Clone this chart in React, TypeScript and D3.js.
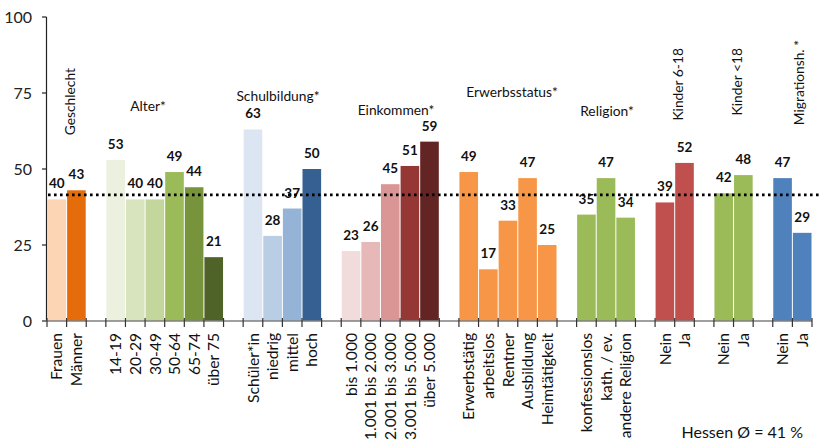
import React from "react";
import * as d3 from "d3";

// ---- data ----
const groups = ["Geschlecht", "Alter*", "Schulbildung*", "Einkommen*", "Erwerbsstatus*", "Religion*", "Kinder 6-18", "Kinder <18", "Migrationsh. *"];
const categories: string[][] = [
  ["Frauen", "Männer"],
  ["14-19", "20-29", "30-49", "50-64", "65-74", "über 75"],
  ["Schüler*in", "niedrig", "mittel", "hoch"],
  ["bis 1.000", "1.001 bis 2.000", "2.001 bis 3.000", "3.001 bis 5.000", "über 5.000"],
  ["Erwerbstätig", "arbeitslos", "Rentner", "Ausbildung", "Heimtätigkeit"],
  ["konfessionslos", "kath. / ev.", "andere Religion"],
  ["Nein", "Ja"],
  ["Nein", "Ja"],
  ["Nein", "Ja"],
];
const values: number[][] = [
  [40, 43],
  [53, 40, 40, 49, 44, 21],
  [63, 28, 37, 50],
  [23, 26, 45, 51, 59],
  [49, 17, 33, 47, 25],
  [35, 47, 34],
  [39, 52],
  [42, 48],
  [47, 29],
];
const colors: string[][] = [
  ["#FCD5B5", "#E46C0A"],
  ["#EBF1DE", "#D7E4BD", "#C3D69B", "#9BBB59", "#77933C", "#4F6228"],
  ["#DCE6F2", "#B9CDE5", "#95B3D7", "#376092"],
  ["#F2DCDB", "#E6B9B8", "#D99694", "#953735", "#632523"],
  ["#F79646", "#F79646", "#F79646", "#F79646", "#F79646"],
  ["#9BBB59", "#9BBB59", "#9BBB59"],
  ["#C0504D", "#C0504D"],
  ["#9BBB59", "#9BBB59"],
  ["#4F81BD", "#4F81BD"],
];
const yTicks = [0, 25, 50, 75, 100];
const average = 41.5;
const averageLabel = "Hessen Ø = 41 %";

// group title layout: [centerX, y, rotated]
const titleLayout: [number, number, boolean][] = [
  [70, 68, true],
  [148, 111, false],
  [278, 101, false],
  [396, 115, false],
  [512, 97, false],
  [607, 116, false],
  [678, 48, true],
  [737, 48, true],
  [799, 40, true],
];

const W = 821, H = 447;
const FONT = "Lato, 'Open Sans', sans-serif";

type Slot = { id: string; label: string; value: number | null; color: string };

export default function App() {
  const slots: Slot[] = [];
  groups.forEach((g, gi) => {
    if (gi > 0) slots.push({ id: `gap${gi}`, label: "", value: null, color: "none" });
    categories[gi].forEach((c, ci) =>
      slots.push({ id: `${gi}-${ci}`, label: c, value: values[gi][ci], color: colors[gi][ci] })
    );
  });

  const x = d3.scaleBand<string>().domain(slots.map((s) => s.id)).range([47, 812]).padding(0);
  const y = d3.scaleLinear().domain([0, 100]).range([321, 17]);
  const bw = x.bandwidth();
  const boundaries = d3.range(slots.length + 1).map((i) => 47 + i * bw);

  return (
    <div style={{ position: "fixed", left: 0, top: 0 }}>
      <svg width={W} height={H} style={{ display: "block", background: "#fff" }} fontFamily={FONT}>
        {/* bars */}
        {slots.filter((s) => s.value !== null).map((s) => (
          <rect key={s.id} x={x(s.id)! + 0.5} width={bw - 1} y={y(s.value!)} height={y(0) - y(s.value!)} fill={s.color} />
        ))}
        {/* value labels */}
        {slots.filter((s) => s.value !== null).map((s) => (
          <text key={"v" + s.id} x={x(s.id)! + bw / 2} y={y(s.value!) - 11} textAnchor="middle" fontSize={13.5} fontWeight="bold" fill="#111">
            {s.value}
          </text>
        ))}
        {/* average dotted line */}
        <line x1={48} x2={821} y1={y(average)} y2={y(average)} stroke="#000" strokeWidth={2.6} strokeDasharray="2.6 3.4" />
        {/* y axis */}
        <line x1={46.5} x2={46.5} y1={y(100)} y2={y(0)} stroke="#222" strokeWidth={1.2} />
        {yTicks.map((t) => (
          <g key={t}>
            <line x1={42} x2={46.5} y1={y(t)} y2={y(t)} stroke="#222" strokeWidth={1.2} />
            <text x={32} y={y(t)} dy="0.35em" textAnchor="end" fontSize={16} fill="#222">{t}</text>
          </g>
        ))}
        {/* x axis */}
        <line x1={42} x2={812} y1={y(0)} y2={y(0)} stroke="#7f7f7f" strokeWidth={1.5} />
        {boundaries.map((b, i) => (
          <line key={i} x1={b} x2={b} y1={318} y2={327} stroke="#333" strokeWidth={1.2} />
        ))}
        {slots.filter((s) => s.label).map((s) => (
          <text key={"c" + s.id} transform={`translate(${x(s.id)! + bw / 2},333) rotate(-90)`} dy="0.36em" textAnchor="end" fontSize={15.6} fill="#111">
            {s.label}
          </text>
        ))}
        {/* group titles */}
        {groups.map((g, gi) => {
          const [cx, cy, rot] = titleLayout[gi];
          return rot ? (
            <text key={g} transform={`translate(${cx},${cy}) rotate(-90)`} dy="0.36em" textAnchor="end" fontSize={13.8} fill="#111">{g}</text>
          ) : (
            <text key={g} x={cx} y={cy} textAnchor="middle" fontSize={13.8} fill="#111">{g}</text>
          );
        })}
        <text x={803} y={438} textAnchor="end" fontSize={16} fill="#111">{averageLabel}</text>
      </svg>
    </div>
  );
}
